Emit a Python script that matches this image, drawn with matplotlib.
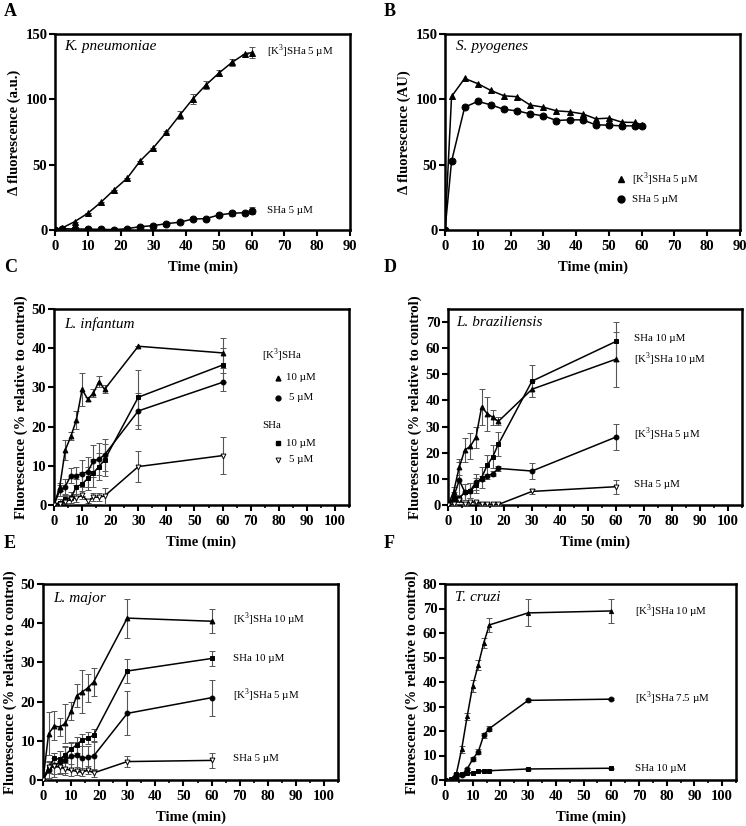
import matplotlib
matplotlib.use("Agg")
import matplotlib.pyplot as plt
from matplotlib.ticker import MultipleLocator

plt.rcParams['font.family'] = ['Liberation Serif', 'DejaVu Serif']
plt.rcParams['mathtext.fontset'] = 'custom'
plt.rcParams['mathtext.rm'] = 'Liberation Serif'

# ---------------- Data ----------------
# Panel A: K. pneumoniae
a_time = [0, 2, 6, 10, 14, 18, 22, 26, 30, 34, 38, 42, 46, 50, 54, 58, 60]
a_k3 = [0, 1.3, 6.4, 12.8, 21.2, 30.7, 39.6, 52.9, 62.9, 74.9, 87.7, 100.2, 110.9, 120.1, 128.3, 134.9, 135.7]
a_k3_err = [0, 0, 0, 0, 0, 0, 0, 0, 0, 1, 3, 4, 3, 2.5, 2.5, 0, 4]
a_sha = [0, 1.0, 0.8, 0.7, 0.5, 0.3, 1.0, 2.6, 3.3, 4.9, 5.9, 8.4, 8.7, 11.5, 12.8, 13.3, 14.8]
a_sha_err = [0, 0, 0, 0, 0, 0, 0, 0, 0, 0, 0, 0, 0, 1, 2, 0, 2.5]

# Panel B: S. pyogenes
b_time = [0, 2, 6, 10, 14, 18, 22, 26, 30, 34, 38, 42, 46, 50, 54, 58, 60]
b_k3 = [0, 102.2, 116, 112, 106.8, 102.7, 102, 95.6, 94, 91.2, 90.5, 88.9, 85.1, 85.6, 82.5, 82.3, 80.5]
b_sha = [0, 52.6, 94, 98.4, 95.8, 92.3, 91.2, 88.9, 87.4, 83.8, 84.3, 84.3, 80.5, 80.2, 79.7, 79.7, 79.7]

# Panel C: L. infantum
c_time = [0, 2, 4, 6, 8, 10, 12, 14, 16, 18, 30, 60]
c_k3_10 = [0, 4.5, 14, 17.5, 21.8, 29.5, 27, 28.5, 31.5, 29.5, 40.5, 38.8]
c_k3_10_err = [0, 1, 2.5, 1, 2.3, 4.3, 0.5, 1, 1.5, 1, 0, 3.8]
c_k3_5 = [0, 3.7, 4.7, 7.5, 7.5, 8, 8.5, 11.2, 11.7, 12.8, 24, 31.3]
c_k3_5_err = [0, 1.5, 2, 2, 2.3, 3.5, 3.8, 4, 4, 4, 4.5, 2.3]
c_sha_10 = [0, 0.5, 1.5, 1.8, 4.7, 5.3, 6.8, 8.2, 9.8, 11.5, 27.5, 35.7]
c_sha_10_err = [0, 1, 1, 1.5, 2, 3, 3, 3.5, 3.5, 4, 7, 4.4]
c_sha_5 = [0, 0.2, 0.8, 1.5, 1.8, 2.5, 1.0, 2.0, 2.0, 2.3, 9.8, 12.6]
c_sha_5_err = [0, 0.5, 1.5, 1, 1, 1, 0.5, 1, 1, 2, 4, 4.8]

# Panel D: L. braziliensis
d_time = [0, 2, 4, 6, 8, 10, 12, 14, 16, 18, 30, 60]
d_k3_10 = [0, 5, 14.5, 21, 22.5, 26, 37.5, 35, 33.5, 32, 44.3, 55.8]
d_k3_10_err = [0, 2, 3, 4.5, 5, 4, 7, 6.5, 3, 1.5, 3, 10.5]
d_sha_10 = [0, 2, 2.5, 5, 5.5, 7.5, 10.5, 15.2, 18.5, 23.3, 47.4, 62.6]
d_sha_10_err = [0, 1.5, 1.5, 3, 3, 3, 4, 4, 4.5, 4.5, 6, 7.5]
d_k3_5 = [0, 3, 9.5, 5, 5.5, 8.8, 10, 11, 12, 14, 13, 26]
d_k3_5_err = [0, 2, 7, 3, 3, 3, 1, 1, 1, 1, 3, 5]
d_sha_5 = [0, 0.5, 1.8, 0.5, 1.0, 1.2, 0.5, 0.3, 0.2, 0.2, 5.2, 7.0]
d_sha_5_err = [0, 0.5, 0.5, 0.5, 0.5, 0.5, 0.5, 0.3, 0.2, 0.2, 1, 2.6]

# Panel E: L. major
e_time = [0, 2, 4, 6, 8, 10, 12, 14, 16, 18, 30, 60]
e_k3_10 = [0, 11.8, 13.8, 13.5, 14.5, 17.5, 21.5, 22.5, 23.5, 25, 41.3, 40.5]
e_k3_10_err = [0, 5.5, 3.7, 2.2, 5, 2.3, 3, 5.5, 3.5, 3.5, 5, 3]
e_sha_10 = [0, 3.2, 5.5, 5.3, 6.5, 7.8, 9, 10.2, 10.7, 11.4, 27.8, 31]
e_sha_10_err = [0, 1.5, 1.5, 2, 2, 2, 2, 1.5, 1.5, 1.5, 3, 2]
e_k3_5 = [0, 2.5, 3.8, 4.5, 5.2, 6, 6.3, 5.6, 5.8, 6.1, 17, 21]
e_k3_5_err = [0, 2, 3, 3, 3.5, 3.5, 3.5, 3, 3, 3.5, 5.6, 4.6]
e_sha_5 = [0, 3.3, 3.5, 3.3, 2.8, 2.5, 2.2, 2.0, 2.5, 1.8, 4.7, 5.0]
e_sha_5_err = [0, 1.5, 2, 1.5, 1.5, 1.5, 1, 1, 1, 1, 1.5, 1.9]

# Panel F: T. cruzi
f_time = [0, 2, 4, 6, 8, 10, 12, 14, 16, 30, 60]
f_k3_10 = [0, 0.2, 2, 12.5, 26, 38.5, 47, 56, 63.3, 68.2, 69]
f_k3_10_err = [0, 0, 0.5, 1.5, 1.5, 2.5, 2, 2, 3, 5.5, 5]
f_k3_75 = [0, 0.2, 1, 2, 4.5, 8.5, 11.5, 18.3, 21, 32.5, 33]
f_k3_75_err = [0, 0, 0.3, 0.5, 0.5, 0.8, 1, 1, 1, 0.5, 0.5]
f_sha_10 = [0, 0.3, 2.5, 2.5, 2.8, 3, 3.5, 3.8, 3.8, 4.5, 4.8]
f_sha_10_err = [0, 0, 0.3, 0.3, 0.3, 0.3, 0.3, 0.3, 0.3, 0.3, 0.3]

W, H = 746, 826
fig = plt.figure(figsize=(W / 100, H / 100), dpi=100)


def add_ax(left, top, right, bottom):
    return fig.add_axes([left / W, 1 - bottom / H, (right - left) / W, (bottom - top) / H])


TICK_FS = 10.5
LAB_FS = 10.5
ANN_FS = 7.8
ERR_C = '#555555'


def style(ax, xmax, ymax, ystep, minor_x):
    ax.set_xlim(0, xmax)
    ax.set_ylim(0, ymax)
    ax.xaxis.set_major_locator(MultipleLocator(10))
    ax.yaxis.set_major_locator(MultipleLocator(ystep))
    if minor_x:
        ax.xaxis.set_minor_locator(MultipleLocator(5))
    for s in ax.spines.values():
        s.set_linewidth(1.8)
    ax.tick_params(axis='x', which='major', pad=3.5)
    ax.tick_params(axis='y', which='major', pad=1.5)
    ax.tick_params(axis='both', which='major', direction='out', length=4, width=1.5,
                   labelsize=TICK_FS)
    ax.tick_params(axis='both', which='minor', direction='out', length=2.5, width=1.2)
    for lab in ax.get_xticklabels() + ax.get_yticklabels():
        lab.set_fontweight('bold')
    ax.set_xlabel('Time (min)', fontsize=LAB_FS, fontweight='bold', labelpad=5)


def series(ax, x, y, err, marker, ms, mfc='black'):
    ax.errorbar(x, y, yerr=err if err is not None else None, color='black', ecolor=ERR_C,
                elinewidth=0.8, capsize=2.2, capthick=0.8, lw=1.1, marker=marker,
                ms=ms, mfc=mfc, mec='black', mew=0.7, zorder=3)


def species(ax, x, y, name):
    ax.text(x, y, name, fontsize=11, fontstyle='italic', va='center', ha='left')


def note(ax, x, y, s):
    ax.text(x, y, s, fontsize=ANN_FS, va='center', ha='left')


K3 = r'[K$^{3}$]SHa'

# ---- Panel A ----
axA = add_ax(55, 34, 350, 230)
series(axA, a_time, a_k3, a_k3_err, '^', 5)
series(axA, a_time, a_sha, a_sha_err, 'o', 5)
style(axA, 90, 150, 50, False)
axA.set_ylabel('Δ fluorescence (a.u.)', fontsize=LAB_FS, fontweight='bold', labelpad=3)
species(axA, 2.7, 140.5, 'K. pneumoniae')
note(axA, 64.6, 137, K3 + ' 5 µM')
note(axA, 64.6, 14.6, 'SHa 5 µM')

# ---- Panel B ----
axB = add_ax(445, 34, 740, 230)
series(axB, b_time, b_k3, None, '^', 5)
series(axB, b_time, b_sha, None, 'o', 5)
style(axB, 90, 150, 50, False)
axB.set_ylabel('Δ fluorescence (AU)', fontsize=LAB_FS, fontweight='bold', labelpad=3)
species(axB, 3.5, 140.5, 'S. pyogenes')
axB.plot([53.6], [39.1], marker='^', ms=5, color='black', ls='none')
axB.plot([53.6], [23.5], marker='o', ms=5, color='black', ls='none')
note(axB, 56.9, 39.1, K3 + ' 5 µM')
note(axB, 56.9, 23.5, 'SHa 5 µM')

# ---- Panel C ----
axC = add_ax(54, 309, 349, 505)
series(axC, c_time, c_k3_10, c_k3_10_err, '^', 3.5)
series(axC, c_time, c_k3_5, c_k3_5_err, 'o', 3.5)
series(axC, c_time, c_sha_10, c_sha_10_err, 's', 3.5)
series(axC, c_time, c_sha_5, c_sha_5_err, 'v', 3.5, mfc='white')
style(axC, 105, 50, 10, True)
axC.set_ylabel('Fluorescence (% relative to control)', fontsize=LAB_FS, fontweight='bold', labelpad=3)
species(axC, 3.8, 46.2, 'L. infantum')
note(axC, 74.2, 38.1, K3)
axC.plot([79.6], [32.4], marker='^', ms=3.5, color='black', ls='none')
note(axC, 82.6, 32.4, '10 µM')
axC.plot([79.6], [27.4], marker='o', ms=3.5, color='black', ls='none')
note(axC, 83.6, 27.4, '5 µM')
note(axC, 74.2, 20.3, 'SHa')
axC.plot([79.6], [15.8], marker='s', ms=3.5, color='black', ls='none')
note(axC, 82.6, 15.8, '10 µM')
axC.plot([79.6], [11.5], marker='v', ms=3.5, mfc='white', mec='black', mew=0.7, ls='none')
note(axC, 83.6, 11.5, '5 µM')

# ---- Panel D ----
axD = add_ax(448, 309, 742, 505)
series(axD, d_time, d_k3_10, d_k3_10_err, '^', 3.5)
series(axD, d_time, d_sha_10, d_sha_10_err, 's', 3.5)
series(axD, d_time, d_k3_5, d_k3_5_err, 'o', 3.5)
series(axD, d_time, d_sha_5, d_sha_5_err, 'v', 3.5, mfc='white')
style(axD, 105, 75, 10, True)
axD.set_ylabel('Fluorescence (% relative to control)', fontsize=LAB_FS, fontweight='bold', labelpad=3)
species(axD, 3.0, 70, 'L. braziliensis')
note(axD, 66.6, 63.8, 'SHa 10 µM')
note(axD, 66.6, 55.6, K3 + ' 10 µM')
note(axD, 66.6, 26.9, K3 + ' 5 µM')
note(axD, 66.6, 7.9, 'SHa 5 µM')

# ---- Panel E ----
axE = add_ax(43, 584, 338, 780)
series(axE, e_time, e_k3_10, e_k3_10_err, '^', 3.5)
series(axE, e_time, e_sha_10, e_sha_10_err, 's', 3.5)
series(axE, e_time, e_k3_5, e_k3_5_err, 'o', 3.5)
series(axE, e_time, e_sha_5, e_sha_5_err, 'v', 3.5, mfc='white')
style(axE, 105, 50, 10, True)
axE.set_ylabel('Fluorescence (% relative to control)', fontsize=LAB_FS, fontweight='bold', labelpad=3)
species(axE, 3.8, 46.2, 'L. major')
note(axE, 67.6, 40.9, K3 + ' 10 µM')
note(axE, 67.6, 31.1, 'SHa 10 µM')
note(axE, 67.6, 21.7, K3 + ' 5 µM')
note(axE, 67.6, 5.5, 'SHa 5 µM')

# ---- Panel F ----
axF = add_ax(445, 584, 736, 780)
series(axF, f_time, f_k3_10, f_k3_10_err, '^', 3)
series(axF, f_time, f_k3_75, f_k3_75_err, 'o', 3.5)
series(axF, f_time, f_sha_10, f_sha_10_err, 's', 3.5)
style(axF, 105, 80, 10, True)
axF.set_ylabel('Fluorescence (% relative to control)', fontsize=LAB_FS, fontweight='bold', labelpad=3)
species(axF, 3.6, 74.3, 'T. cruzi')
note(axF, 68.4, 68.8, K3 + ' 10 µM')
note(axF, 68.4, 33.4, K3 + ' 7.5 µM')
note(axF, 68.4, 4.8, 'SHa 10 µM')

# Panel letters
for letter, x, y in [('A', 4, 12), ('B', 384, 12), ('C', 4, 268), ('D', 384, 268),
                     ('E', 4, 543), ('F', 384, 543)]:
    fig.text(x / W, 1 - y / H, letter, fontsize=13, fontweight='bold', va='center', ha='left')

fig.savefig('out.png', dpi=100)
